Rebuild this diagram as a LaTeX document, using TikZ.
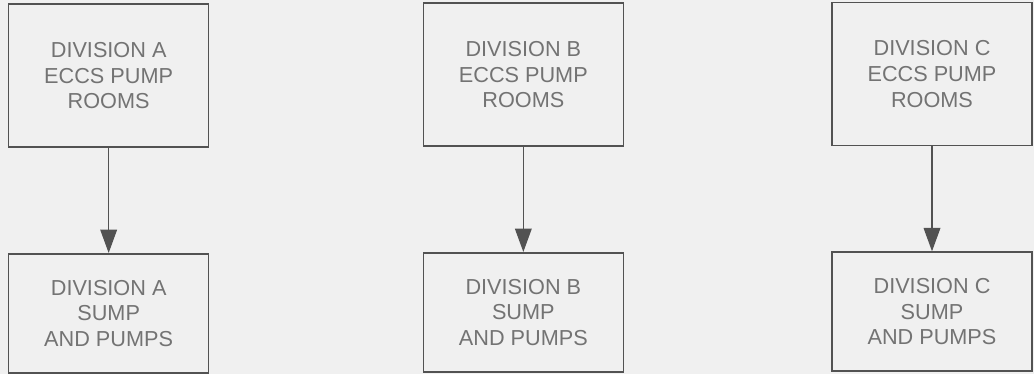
\documentclass[tikz,border=0pt]{standalone}
\usepackage{fontspec}
\setmainfont{Liberation Sans}
\usetikzlibrary{positioning,arrows.meta}

\begin{document}
\begin{tikzpicture}[
    font=\fontsize{18.5}{22}\selectfont, >={Triangle[length=7mm,width=5mm]},
    node distance=31.5mm,
    blk/.style={draw=black!68, line width=1.4pt, align=center, text=black!55,
      minimum width=60mm, inner sep=0pt},
    room/.style={blk, minimum height=42.9mm},
    sump/.style={blk, minimum height=35.7mm}]
  \useasboundingbox[fill=black!6] (0,0) rectangle (31.02,-11.22);
  % top row
  \node[room] (roomsA) at (3.26,-2.27) {DIVISION A\\ECCS PUMP\\ROOMS};
  \node[room] (roomsB) at (15.70,-2.24) {DIVISION B\\ECCS PUMP\\ROOMS};
  \node[room] (roomsC) at (27.96,-2.22) {DIVISION C\\ECCS PUMP\\ROOMS};
  % bottom row
  \node[sump, below=of roomsA] (sumpA) {DIVISION A\\SUMP\\AND PUMPS};
  \node[sump, below=of roomsB] (sumpB) {DIVISION B\\SUMP\\AND PUMPS};
  \node[sump, below=of roomsC] (sumpC) {DIVISION C\\SUMP\\AND PUMPS};
  \draw[->, draw=black!68, line width=1.1pt] (roomsA) -- (sumpA);
  \draw[->, draw=black!68, line width=1.1pt] (roomsB) -- (sumpB);
  \draw[->, draw=black!68, line width=1.1pt] (roomsC) -- (sumpC);
\end{tikzpicture}
\end{document}
